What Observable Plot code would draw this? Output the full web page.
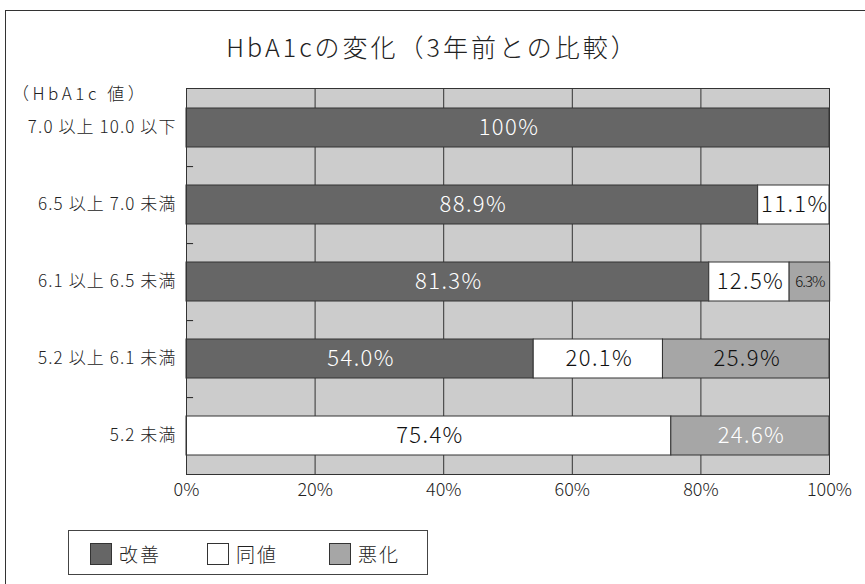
<!DOCTYPE html>
<html>
<head>
<meta charset="utf-8">
<script src="https://cdn.jsdelivr.net/npm/d3@7"></script>
<script src="https://cdn.jsdelivr.net/npm/@observablehq/plot@0.6"></script>
<style>
  html, body { margin: 0; padding: 0; background: #fff; width: 865px; height: 584px; overflow: hidden; }
  body { font-family: "Noto Sans CJK JP", "Noto Sans", sans-serif; font-weight: 300; color: #222; position: relative; }
  #frame { position: absolute; left: 5px; top: 10px; width: 880px; height: 600px; border: 1px solid #333; box-sizing: border-box; }
  #title { position: absolute; left: 0; width: 865px; top: 28px; text-align: center; font-size: 25px; letter-spacing: 3px; color: #222; }
  #ylabel { position: absolute; left: 12px; top: 80px; font-size: 17px; letter-spacing: 3.5px; color: #222; }
  #chart { position: absolute; left: 0; top: 70px; }
  #legend { position: absolute; left: 68px; top: 530px; width: 360px; height: 45px; border: 1px solid #444; box-sizing: border-box; }
  .item { position: absolute; top: 9px; display: flex; align-items: center; font-size: 19px; letter-spacing: 2px; color: #222; }
  .sw { width: 22px; height: 22px; border: 1px solid #333; box-sizing: border-box; margin-right: 7px; }
  #chart g[aria-label="y-axis tick label"] text { letter-spacing: 1.1px; }
  #chart g.biglabel text { letter-spacing: 1.4px; }
  #chart g.smalllabel text { letter-spacing: -1px; }
</style>
</head>
<body>
<div id="frame"></div>
<div id="title">HbA1cの変化（3年前との比較）</div>
<div id="ylabel">（HbA1c 値）</div>
<div id="chart"></div>
<div id="legend"></div>
<script>
const categories = ["7.0 以上 10.0 以下", "6.5 以上 7.0 未満", "6.1 以上 6.5 未満", "5.2 以上 6.1 未満", "5.2 未満"];
const seriesNames = ["改善", "同値", "悪化"];
const improved = [100, 88.9, 81.3, 54.0, 0];
const same     = [0, 11.1, 12.5, 20.1, 75.4];
const worse    = [0, 0, 6.3, 25.9, 24.6];
const xTicks = [0, 20, 40, 60, 80, 100];
const colors = ["#666666", "#ffffff", "#a6a6a6"];

const seriesValues = [improved, same, worse];
const rows = [];
seriesNames.forEach((s, si) => {
  categories.forEach((c, ci) => {
    rows.push({series: s, cat: c, value: seriesValues[si][ci]});
  });
});
const nonzero = rows.filter(d => d.value > 0);

const width = 865, marginLeft = 186, marginRight = 36, marginTop = 18, marginBottom = 30;
const plotH = 386;
const step = plotH / 5;

const labelFill = d => (d.series === "改善" || (d.series === "悪化" && d.cat === "5.2 未満")) ? "#ffffff" : "#111111";

const chart = Plot.plot({
  width, height: marginTop + plotH + marginBottom,
  marginLeft, marginRight, marginTop, marginBottom,
  style: {fontFamily: "'Noto Sans CJK JP', sans-serif", fontWeight: 300, color: "#222", background: "transparent"},
  x: {domain: [0, 100], ticks: xTicks, tickFormat: d => d + "%", label: null, tickSize: 0, tickPadding: 9},
  y: {domain: categories, paddingInner: 0.5, paddingOuter: 0.25, label: null, tickSize: 0, tickPadding: 10},
  color: {domain: seriesNames, range: colors},
  marks: [
    Plot.frame({fill: "#cccccc", stroke: null}),
    Plot.ruleX(xTicks.slice(1, -1), {stroke: "#333", strokeWidth: 1}),
    Plot.barX(nonzero, Plot.stackX({x: "value", y: "cat", fill: "series", order: seriesNames, stroke: "#333", strokeWidth: 1})),
    Plot.ruleY(categories.slice(0, 4), {y: d => d, x1: 0, x2: 1.1, stroke: "#222", dy: step / 2}),
    Plot.text(nonzero, Plot.stackX({x: "value", y: "cat", z: "series", order: seriesNames,
      text: d => d.value >= 10 ? d.value.toFixed(d.value === 100 ? 0 : 1) + "%" : "", fill: labelFill,
      fontSize: 22, dx: 1})),
    Plot.text(nonzero, Plot.stackX({x: "value", y: "cat", z: "series", order: seriesNames,
      text: d => d.value < 10 ? d.value.toFixed(1) + "%" : "", fill: labelFill,
      fontSize: 15})),
    Plot.axisX({ticks: xTicks, tickFormat: d => d + "%", tickSize: 0, tickPadding: 9, fontSize: 18, label: null}),
    Plot.axisY({tickSize: 0, tickPadding: 10, fontSize: 17, label: null}),
    Plot.frame({stroke: "#333", strokeWidth: 1})
  ]
});
const textGroups = chart.querySelectorAll('g[aria-label="text"]');
if (textGroups[0]) textGroups[0].classList.add("biglabel");
if (textGroups[1]) textGroups[1].classList.add("smalllabel");
document.getElementById("chart").appendChild(chart);

const legend = document.getElementById("legend");
const legendX = [21, 138, 260];
seriesNames.forEach((s, i) => {
  const it = document.createElement("div");
  it.className = "item";
  it.style.left = legendX[i] + "px";
  it.innerHTML = `<div class="sw" style="background:${colors[i]}"></div><span>${s}</span>`;
  legend.appendChild(it);
});
</script>
</body>
</html>
